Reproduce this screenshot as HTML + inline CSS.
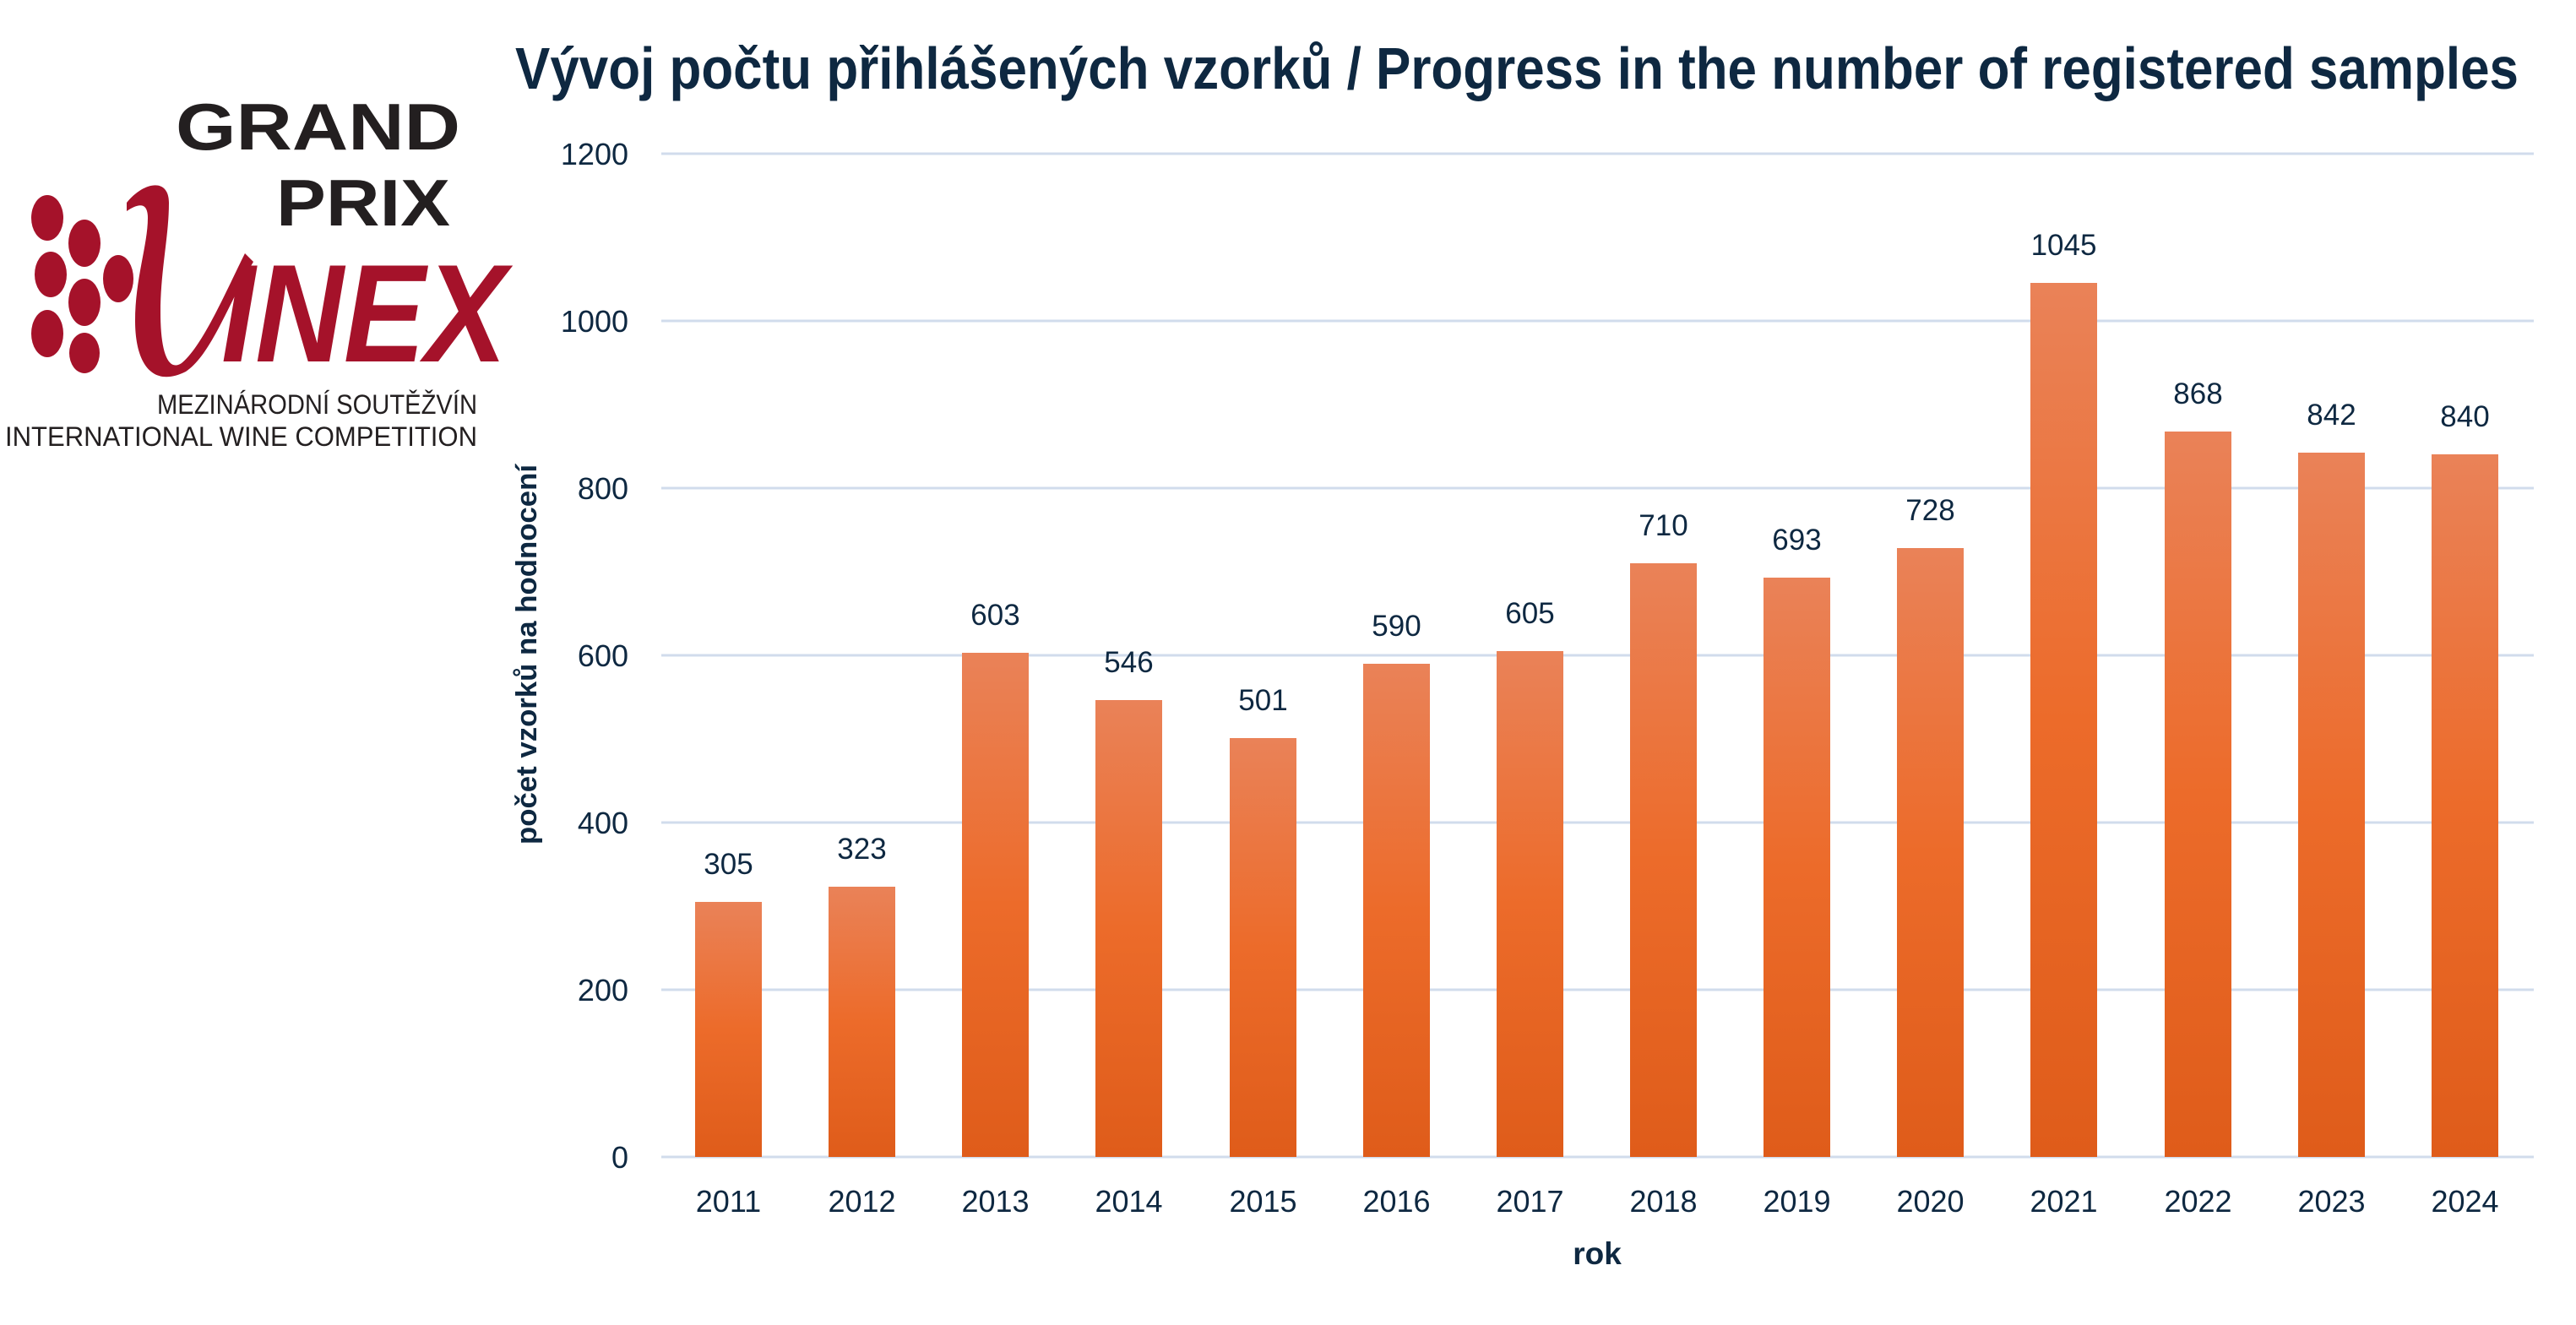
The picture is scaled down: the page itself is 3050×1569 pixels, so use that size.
<!DOCTYPE html>
<html><head><meta charset="utf-8"><style>
html,body{margin:0;padding:0;background:#fff;}
svg{display:block;}
</style></head><body>
<svg width="3050" height="1569" viewBox="0 0 3050 1569" xmlns="http://www.w3.org/2000/svg">
<defs>
<linearGradient id="g" x1="0" y1="0" x2="0" y2="1">
<stop offset="0" stop-color="#ea8258"/>
<stop offset="0.5" stop-color="#ec6b2a"/>
<stop offset="1" stop-color="#df5c1a"/>
</linearGradient>
</defs>
<!-- Logo -->
<g font-family="Liberation Sans, sans-serif" fill="#231f20">
<text x="545" y="177" font-size="78" font-weight="bold" text-anchor="end" textLength="337" lengthAdjust="spacingAndGlyphs">GRAND</text>
<text x="533" y="267" font-size="78" font-weight="bold" text-anchor="end" textLength="206" lengthAdjust="spacingAndGlyphs">PRIX</text>
<text x="565" y="490" font-size="32" text-anchor="end" textLength="379" lengthAdjust="spacingAndGlyphs">MEZINÁRODNÍ SOUTĚŽVÍN</text>
<text x="565" y="528" font-size="32" text-anchor="end" textLength="559" lengthAdjust="spacingAndGlyphs">INTERNATIONAL WINE COMPETITION</text>
</g>
<g fill="#a5122a">
<ellipse cx="56" cy="258" rx="19" ry="27"/>
<ellipse cx="100" cy="288" rx="19" ry="28"/>
<ellipse cx="60" cy="325" rx="19" ry="27"/>
<ellipse cx="140" cy="330" rx="18" ry="28"/>
<ellipse cx="100" cy="358" rx="19" ry="28"/>
<ellipse cx="56" cy="395" rx="19" ry="28"/>
<ellipse cx="100" cy="418" rx="18" ry="24"/>
<path d="M150 240 C170 215 200 210 200 240 C200 280 190 320 190 370 C190 420 200 440 215 430 C240 410 270 340 290 300 L300 310 C270 360 250 420 220 440 C180 460 160 430 160 380 C160 330 175 290 175 258 C175 240 165 240 150 250 Z"/>
<text x="262" y="428" font-family="Liberation Sans, sans-serif" font-size="165" font-weight="bold" font-style="italic" textLength="338" lengthAdjust="spacingAndGlyphs">INEX</text>
</g>
<!-- Title -->
<text x="610" y="105" font-family="Liberation Sans, sans-serif" font-size="70" font-weight="bold" fill="#0e2841" textLength="2372" lengthAdjust="spacingAndGlyphs">Vývoj počtu přihlášených vzorků / Progress in the number of registered samples</text>
<!-- Grid -->
<g stroke="#d1dcec" stroke-width="3">
<line x1="783" y1="182" x2="3000" y2="182"/>
<line x1="783" y1="380" x2="3000" y2="380"/>
<line x1="783" y1="578" x2="3000" y2="578"/>
<line x1="783" y1="776" x2="3000" y2="776"/>
<line x1="783" y1="974" x2="3000" y2="974"/>
<line x1="783" y1="1172" x2="3000" y2="1172"/>
<line x1="783" y1="1370" x2="3000" y2="1370"/>
</g>
<g font-family="Liberation Sans, sans-serif" font-size="36" fill="#0e2841" text-anchor="end">
<text x="744" y="195">1200</text>
<text x="744" y="393">1000</text>
<text x="744" y="591">800</text>
<text x="744" y="789">600</text>
<text x="744" y="987">400</text>
<text x="744" y="1185">200</text>
<text x="744" y="1383">0</text>
</g>
<text transform="translate(635,775) rotate(-90)" font-family="Liberation Sans, sans-serif" font-size="34" font-weight="bold" fill="#0e2841" text-anchor="middle" textLength="450" lengthAdjust="spacingAndGlyphs">počet vzorků na hodnocení</text>
<text x="1891" y="1497" font-family="Liberation Sans, sans-serif" font-size="37" font-weight="bold" fill="#0e2841" text-anchor="middle">rok</text>
<g font-family="Liberation Sans, sans-serif" font-size="35" fill="#0e2841" text-anchor="middle">
<rect x="823" y="1068" width="79" height="302" fill="url(#g)"/><text x="862.5" y="1035">305</text><text x="862.5" y="1435" font-size="36">2011</text>
<rect x="981" y="1050" width="79" height="320" fill="url(#g)"/><text x="1020.5" y="1017">323</text><text x="1020.5" y="1435" font-size="36">2012</text>
<rect x="1139" y="773" width="79" height="597" fill="url(#g)"/><text x="1178.5" y="740">603</text><text x="1178.5" y="1435" font-size="36">2013</text>
<rect x="1297" y="829" width="79" height="541" fill="url(#g)"/><text x="1336.5" y="796">546</text><text x="1336.5" y="1435" font-size="36">2014</text>
<rect x="1456" y="874" width="79" height="496" fill="url(#g)"/><text x="1495.5" y="841">501</text><text x="1495.5" y="1435" font-size="36">2015</text>
<rect x="1614" y="786" width="79" height="584" fill="url(#g)"/><text x="1653.5" y="753">590</text><text x="1653.5" y="1435" font-size="36">2016</text>
<rect x="1772" y="771" width="79" height="599" fill="url(#g)"/><text x="1811.5" y="738">605</text><text x="1811.5" y="1435" font-size="36">2017</text>
<rect x="1930" y="667" width="79" height="703" fill="url(#g)"/><text x="1969.5" y="634">710</text><text x="1969.5" y="1435" font-size="36">2018</text>
<rect x="2088" y="684" width="79" height="686" fill="url(#g)"/><text x="2127.5" y="651">693</text><text x="2127.5" y="1435" font-size="36">2019</text>
<rect x="2246" y="649" width="79" height="721" fill="url(#g)"/><text x="2285.5" y="616">728</text><text x="2285.5" y="1435" font-size="36">2020</text>
<rect x="2404" y="335" width="79" height="1035" fill="url(#g)"/><text x="2443.5" y="302">1045</text><text x="2443.5" y="1435" font-size="36">2021</text>
<rect x="2563" y="511" width="79" height="859" fill="url(#g)"/><text x="2602.5" y="478">868</text><text x="2602.5" y="1435" font-size="36">2022</text>
<rect x="2721" y="536" width="79" height="834" fill="url(#g)"/><text x="2760.5" y="503">842</text><text x="2760.5" y="1435" font-size="36">2023</text>
<rect x="2879" y="538" width="79" height="832" fill="url(#g)"/><text x="2918.5" y="505">840</text><text x="2918.5" y="1435" font-size="36">2024</text>
</g>
</svg>
</body></html>
